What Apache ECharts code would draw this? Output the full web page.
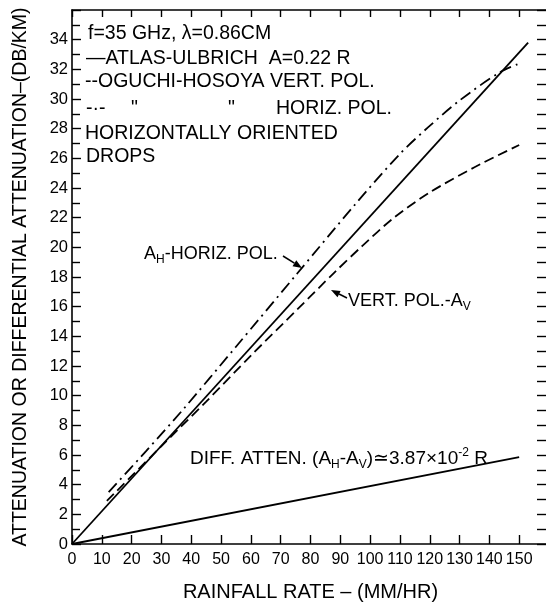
<!DOCTYPE html>
<html>
<head>
<meta charset="utf-8">
<script src="https://cdn.jsdelivr.net/npm/echarts@6/dist/echarts.min.js"></script>
<style>
  html, body { margin: 0; padding: 0; background: #fff; }
  #chart { width: 546px; height: 605px; }
</style>
</head>
<body>
<div id="chart"></div>
<script>
// 数据：降雨率 (MM/HR) 与衰减 (DB/KM)
const atlasRate = [0, 153];
const atlasAtten = [0, 33.8];
const vertRate = [11.7, 30, 45, 60, 76, 88, 97.4, 108, 120, 135, 150];
const vertAtten = [2.9, 6.6, 9.6, 12.7, 15.9, 18.3, 20.1, 22.0, 23.7, 25.4, 26.9];
const horizRate = [12.3, 25, 37.4, 55, 75.4, 95, 110, 119.5, 130, 143.5, 150.2];
const horizAtten = [3.5, 6.3, 9.1, 13.3, 18.2, 22.9, 26.3, 28.1, 29.9, 31.8, 32.4];
const diffRate = [0, 150];
const diffAtten = [0, 5.85];

// 字体
const FONT = '"Liberation Sans", "DejaVu Sans", sans-serif';

// 把两个数组拼成 [x, y] 点
const toPairs = (xs, ys) => xs.map((x, i) => [x, ys[i]]);

// 文字注释
function label(text, x, y, size = 19.5) {
  return {
    type: 'text',
    silent: true,
    style: {
      text, x, y,
      fill: '#000',
      font: `${size}px ${FONT}`,
      verticalAlign: 'middle',
      textVerticalAlign: 'middle'
    }
  };
}

// 带下标/上标的文字
function richLabel(text, x, y, size = 18) {
  return {
    type: 'text',
    silent: true,
    style: {
      text, x, y,
      fill: '#000',
      verticalAlign: 'middle',
      textVerticalAlign: 'middle',
      rich: {
        m: { fontSize: size, fontFamily: FONT, lineHeight: 24, verticalAlign: 'middle' },
        s: { fontSize: 12, fontFamily: FONT, lineHeight: 24, verticalAlign: 'bottom' },
        u: { fontSize: 12, fontFamily: FONT, lineHeight: 24, verticalAlign: 'top' }
      }
    }
  };
}

// 箭头（线 + 三角形头）
function arrow(x1, y1, x2, y2) {
  const dx = x2 - x1, dy = y2 - y1;
  const len = Math.sqrt(dx * dx + dy * dy);
  const ux = dx / len, uy = dy / len;
  const bx = x2 - ux * 9, by = y2 - uy * 9;
  return [
    { type: 'line', silent: true, shape: { x1, y1, x2: bx, y2: by }, style: { stroke: '#000', lineWidth: 1.5 } },
    {
      type: 'polygon', silent: true,
      shape: { points: [[x2, y2], [bx - uy * 3.5, by + ux * 3.5], [bx + uy * 3.5, by - ux * 3.5]] },
      style: { fill: '#000' }
    }
  ];
}

// 轴线不要贴到 0 上，否则上/右两根轴会跑到左下角
const axisLine = { show: true, onZero: false, lineStyle: { color: '#000', width: 1.6 } };
const tickStyle = { color: '#000', width: 1.4 };

const chart = echarts.init(document.getElementById('chart'));

const option = {
  animation: false,
  backgroundColor: '#fff',
  grid: { left: 72, top: 10, right: -3, bottom: 61, outerBoundsMode: 'none' },
  xAxis: [
    {
      type: 'value', min: 0, max: 160, interval: 10, position: 'bottom',
      name: 'RAINFALL RATE – (MM/HR)', nameLocation: 'middle', nameGap: 38,
      nameTextStyle: { color: '#000', fontSize: 20, fontFamily: FONT },
      axisLine,
      axisTick: { inside: true, length: 9, lineStyle: tickStyle },
      axisLabel: {
        color: '#000', fontSize: 16, fontFamily: FONT, margin: 8,
        formatter: v => (v <= 150 ? String(v) : '')
      },
      splitLine: { show: false }
    },
    {
      type: 'value', min: 0, max: 160, interval: 10, position: 'top',
      axisLine,
      axisTick: { inside: true, length: 7, lineStyle: tickStyle },
      axisLabel: { show: false },
      splitLine: { show: false }
    }
  ],
  yAxis: [
    {
      type: 'value', min: 0, max: 36, interval: 2, position: 'left',
      name: 'ATTENUATION OR DIFFERENTIAL ATTENUATION–(DB/KM)',
      nameLocation: 'middle', nameRotate: 90, nameGap: 41,
      nameTextStyle: { color: '#000', fontSize: 19.5, fontFamily: FONT },
      axisLine,
      axisTick: { inside: true, length: 9, lineStyle: tickStyle },
      minorTick: { show: true, splitNumber: 2, length: 8, lineStyle: tickStyle },
      axisLabel: {
        color: '#000', fontSize: 16.5, fontFamily: FONT, margin: 4,
        formatter: v => (v <= 34 ? String(v) : '')
      },
      splitLine: { show: false }
    },
    {
      type: 'value', min: 0, max: 36, interval: 1, position: 'right',
      axisLine,
      axisTick: { inside: true, length: 12, lineStyle: tickStyle },
      axisLabel: { show: false },
      splitLine: { show: false }
    }
  ],
  series: [
    {
      name: 'ATLAS-ULBRICH', type: 'line', data: toPairs(atlasRate, atlasAtten),
      showSymbol: false, silent: true,
      lineStyle: { color: '#000', width: 1.8 }
    },
    {
      name: 'VERT. POL.', type: 'line', data: toPairs(vertRate, vertAtten),
      showSymbol: false, silent: true, smooth: 0.3,
      lineStyle: { color: '#000', width: 1.8, type: [10, 5] }
    },
    {
      name: 'HORIZ. POL.', type: 'line', data: toPairs(horizRate, horizAtten),
      showSymbol: false, silent: true, smooth: 0.3,
      lineStyle: { color: '#000', width: 1.8, type: [12, 5, 2, 5] }
    },
    {
      name: 'DIFF. ATTEN.', type: 'line', data: toPairs(diffRate, diffAtten),
      showSymbol: false, silent: true,
      lineStyle: { color: '#000', width: 1.8 }
    }
  ],
  graphic: [
    label('f=35 GHz, λ=0.86CM', 88, 34),
    label('—ATLAS-ULBRICH  A=0.22 R', 86, 59),
    label('--OGUCHI-HOSOYA VERT. POL.', 85, 82),
    label('-·-', 86, 109),
    label('"', 131, 109),
    label('"', 228, 109),
    label('HORIZ. POL.', 276, 109),
    label('HORIZONTALLY ORIENTED', 85, 134),
    label('DROPS', 86, 157),
    richLabel('{m|A}{s|H}{m|-HORIZ. POL.}', 144, 254),
    richLabel('{m|VERT. POL.-A}{s|V}', 348, 301),
    richLabel('{m|DIFF. ATTEN. (A}{s|H}{m|-A}{s|V}{m|)≃3.87×10}{u|-2}{m| R}', 190, 459, 19),
    ...arrow(283, 256, 302, 268),
    ...arrow(347, 298, 331, 290)
  ]
};

chart.setOption(option);
</script>
</body>
</html>
